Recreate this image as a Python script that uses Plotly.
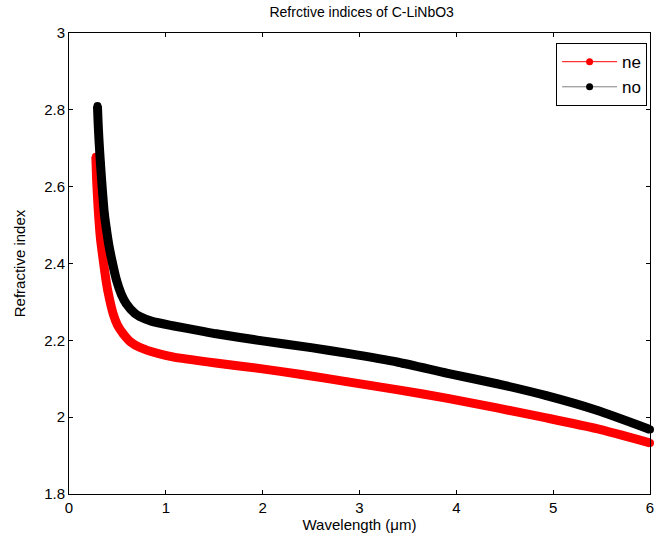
import plotly.graph_objects as go

# Wavelength (um) and refractive index readings
wl_no = [0.294, 0.30, 0.31, 0.325, 0.342, 0.365, 0.386, 0.41, 0.45, 0.49, 0.54, 0.59, 0.68,
         0.73, 0.85, 1.07, 1.37, 1.52, 1.96, 2.5, 2.88, 3.4, 3.91, 4.42, 4.93, 5.45, 6.0]
n_o = [2.81, 2.77, 2.72, 2.66, 2.60, 2.53, 2.49, 2.45, 2.40, 2.357, 2.32, 2.296, 2.27,
       2.262, 2.25, 2.238, 2.224, 2.217, 2.200, 2.181, 2.166, 2.143, 2.114, 2.087, 2.056, 2.018, 1.968]

wl_ne = [0.277, 0.285, 0.30, 0.325, 0.35, 0.38, 0.40, 0.455, 0.50, 0.557, 0.64, 0.728, 0.93,
         1.07, 1.515, 1.96, 2.4, 2.88, 3.4, 3.91, 4.42, 4.93, 5.45, 6.0]
n_e = [2.678, 2.62, 2.548, 2.465, 2.415, 2.36, 2.33, 2.27, 2.24, 2.218, 2.195, 2.182, 2.165,
       2.157, 2.141, 2.127, 2.111, 2.092, 2.071, 2.049, 2.024, 1.998, 1.970, 1.933]

x_ticks = [0, 1, 2, 3, 4, 5, 6]
y_ticks = [1.8, 2.0, 2.2, 2.4, 2.6, 2.8, 3.0]
y_tick_labels = ["1.8", "2", "2.2", "2.4", "2.6", "2.8", "3"]

FONT = "Liberation Sans, Arial, sans-serif"

fig = go.Figure()
fig.add_trace(go.Scatter(x=wl_ne, y=n_e, mode="lines+markers",
                         line=dict(color="#ff0000", width=9, shape="spline", smoothing=0.6),
                         marker=dict(color="#ff0000", size=8),
                         cliponaxis=False, showlegend=False))
fig.add_trace(go.Scatter(x=wl_no, y=n_o, mode="lines+markers",
                         line=dict(color="#000000", width=9, shape="spline", smoothing=0.6),
                         marker=dict(color="#000000", size=8),
                         cliponaxis=False, showlegend=False))
# legend entries
fig.add_trace(go.Scatter(x=[None], y=[None], mode="lines+markers", name="ne",
                         line=dict(color="#ff0000", width=1),
                         marker=dict(color="#ff0000", size=7)))
fig.add_trace(go.Scatter(x=[None], y=[None], mode="lines+markers", name="no",
                         line=dict(color="#808080", width=1),
                         marker=dict(color="#000000", size=7)))

axis_common = dict(showline=True, linecolor="black", linewidth=1, mirror="ticks",
                   ticks="inside", ticklen=4, tickcolor="black", showgrid=False,
                   zeroline=False, tickfont=dict(family=FONT, size=15, color="black"))

fig.update_layout(
    width=660, height=548,
    margin=dict(l=69, r=6, t=33, b=54),
    paper_bgcolor="white", plot_bgcolor="white",
    font=dict(family=FONT, color="black"),
    title=dict(text="Refrctive indices of C-LiNbO3", x=0.548, xanchor="center",
               y=0.978, yanchor="middle", font=dict(family=FONT, size=14, color="black")),
    xaxis=dict(range=[0, 6], tickvals=x_ticks,
               title=dict(text="Wavelength (μm)", font=dict(family=FONT, size=15), standoff=4),
               **axis_common),
    yaxis=dict(range=[1.8, 3.0], tickvals=y_ticks, ticktext=y_tick_labels,
               title=dict(text="Refractive index", font=dict(family=FONT, size=15), standoff=14),
               **axis_common),
    legend=dict(x=0.995, xanchor="right", y=0.978, yanchor="top",
                bordercolor="black", borderwidth=1, bgcolor="white",
                font=dict(family=FONT, size=17, color="black"),
                itemwidth=55, tracegroupgap=0),
)

fig.write_html("out.html")
